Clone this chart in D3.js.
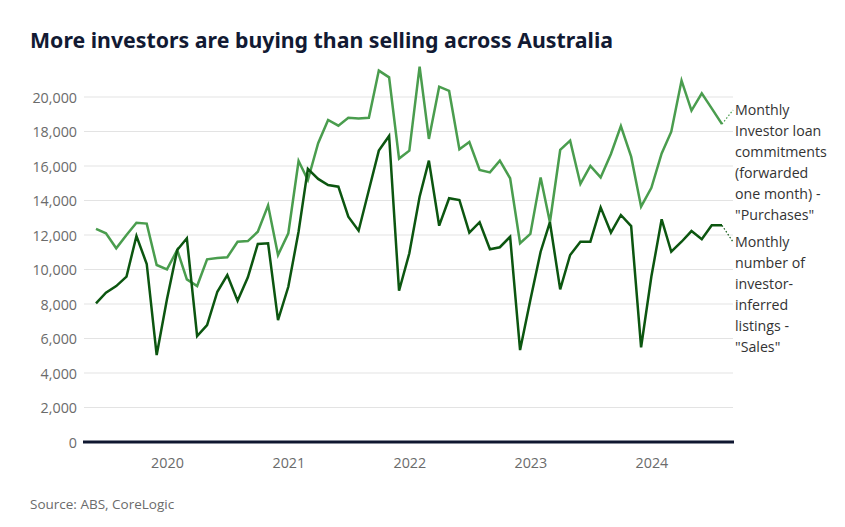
<!DOCTYPE html>
<html><head><meta charset="utf-8">
<script src="https://cdn.jsdelivr.net/npm/d3@7"></script>
<style>
body{margin:0;background:#fff;}
text{font-family:"Open Sans","Noto Sans",sans-serif;}
</style></head>
<body><svg id="c" width="845" height="527"></svg>
<script>
const startMonth = "2019-06";
const endMonth = "2024-08";
const purchases = [12350,12100,11230,12000,12710,12660,10260,10010,11130,9430,9040,10590,10670,10710,11610,11650,12190,13720,10840,12100,16290,15190,17320,18670,18340,18800,18760,18800,21530,21140,16430,16890,21760,17570,20600,20350,16970,17390,15770,15630,16310,15290,11520,12060,15340,12740,16930,17470,14960,16000,15340,16700,18320,16540,13640,14740,16730,17990,20950,19210,20210,19340,18430];
const sales = [8040,8660,9040,9590,11940,10320,5040,8270,11130,11810,6140,6780,8710,9680,8190,9550,11480,11520,7070,9000,12200,15830,15250,14900,14800,13060,12250,14610,16890,17740,8770,10940,14220,16310,12540,14130,14030,12140,12740,11170,11290,11900,5330,8230,11030,12740,8850,10840,11610,11610,13600,12140,13160,12520,5490,9590,12910,11030,11610,12230,11750,12560,12560];
const yTicks = [0,2000,4000,6000,8000,10000,12000,14000,16000,18000,20000];
const xTickYears = [2020,2021,2022,2023,2024];
const purchasesLabel = ["Monthly","Investor loan","commitments","(forwarded","one month) -","\"Purchases\""];
const salesLabel = ["Monthly","number of","investor-","inferred","listings -","\"Sales\""];
const title = "More investors are buying than selling across Australia";
const source = "Source: ABS, CoreLogic";

const parse = d3.timeParse("%Y-%m");
const months = d3.timeMonth.range(parse(startMonth), d3.timeMonth.offset(parse(endMonth),1));

const svg = d3.select("#c");
const x = d3.scaleTime().domain([parse(startMonth), parse(endMonth)]).range([96,722]);
const y = d3.scaleLinear().domain([0,20000]).range([442,97]);

svg.append("text").attr("x",30).attr("y",48).text(title)
  .attr("font-size",21.3).attr("font-weight",700).attr("fill","#121a33")
  .style("font-family","'Noto Sans','Open Sans',sans-serif");

// grid
const yAxis = d3.axisLeft(y).tickValues(yTicks).tickSize(0).tickPadding(0).tickFormat(d3.format(","));
const gy = svg.append("g").attr("transform","translate(77,0)").call(yAxis);
gy.select(".domain").remove();
gy.selectAll("text").attr("font-size",14.3).attr("fill","#6b6b6b").attr("dy","0.35em")
  .style("font-family","'Open Sans',sans-serif");
svg.append("g").selectAll("line").data(yTicks.filter(d=>d>0)).join("line")
  .attr("x1",84).attr("x2",733).attr("y1",d=>y(d)).attr("y2",d=>y(d))
  .attr("stroke","#e3e3e3").attr("stroke-width",1);

// x axis
const xAxis = d3.axisBottom(x).tickValues(xTickYears.map(yr=>new Date(yr,0,1))).tickSize(0).tickPadding(0).tickFormat(d3.timeFormat("%Y"));
const gx = svg.append("g").attr("transform","translate(0,463)").call(xAxis);
gx.select(".domain").remove();
gx.selectAll("text").attr("font-size",14.3).attr("fill","#6b6b6b").attr("dy","0.35em")
  .style("font-family","'Open Sans',sans-serif");

const line = d3.line().x((d,i)=>x(months[i])).y(d=>y(d));
svg.append("path").datum(purchases).attr("d",line).attr("fill","none")
  .attr("stroke","#4a9d4e").attr("stroke-width",2.5).attr("stroke-linejoin","miter");
svg.append("path").datum(sales).attr("d",line).attr("fill","none")
  .attr("stroke","#0c5610").attr("stroke-width",2.5).attr("stroke-linejoin","miter");

// zero line
svg.append("line").attr("x1",83).attr("x2",734).attr("y1",y(0)).attr("y2",y(0))
  .attr("stroke","#0f1730").attr("stroke-width",3);

// labels
function label(lines, y0, color, lastVal){
  const lx = x(months[months.length-1]);
  svg.append("line").attr("x1",lx).attr("y1",y(lastVal)).attr("x2",733).attr("y2",y0)
    .attr("stroke",color).attr("stroke-width",1.2).attr("stroke-dasharray","1.5,2");
  const t = svg.append("text").attr("x",735).attr("y",y0).attr("font-size",14.2).attr("fill","#333")
    .style("font-family","'Open Sans',sans-serif");
  lines.forEach((s,i)=>t.append("tspan").attr("x",735).attr("y",y0+i*21).attr("dy","0.35em").text(s));
}
label(purchasesLabel,110,"#4a9d4e",purchases[purchases.length-1]);
label(salesLabel,242,"#0c5610",sales[sales.length-1]);

svg.append("text").attr("x",30).attr("y",509).text(source).attr("font-size",13.5).attr("fill","#6b6b6b")
  .style("font-family","'Open Sans',sans-serif");
</script></body></html>
